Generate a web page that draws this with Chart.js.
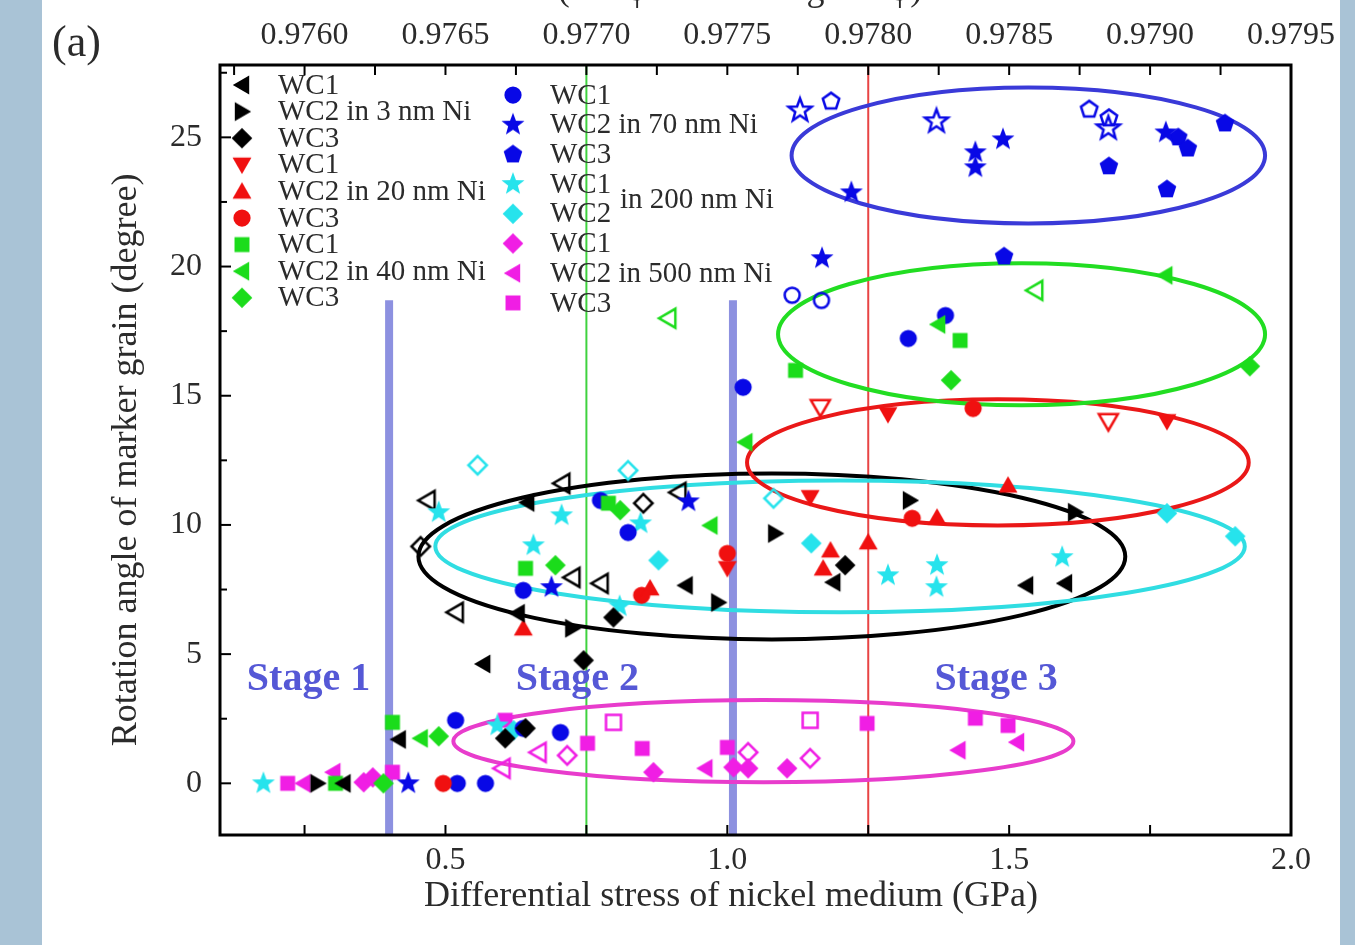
<!DOCTYPE html>
<html>
<head>
<meta charset="utf-8">
<script src="https://cdn.jsdelivr.net/npm/chart.js@4.4.1/dist/chart.umd.min.js"></script>
<style>
  html, body { margin: 0; padding: 0; background: #a9c3d6; }
  #wrap { width: 1355px; height: 945px; }
</style>
</head>
<body>
<div id="wrap"><canvas id="grafico" width="1355" height="945"></canvas></div>
<script>
const FONT = "'Liberation Serif', 'Times New Roman', serif";

// ticks
const xTicks = [0.5, 1.0, 1.5, 2.0];
const xMinorTicks = [0.25, 0.75, 1.25, 1.75];
const topTicks = [0.9760, 0.9765, 0.9770, 0.9775, 0.9780, 0.9785, 0.9790, 0.9795];
const topMinorTicks = [0.97575, 0.97625, 0.97675, 0.97725, 0.97775, 0.97825, 0.97875, 0.97925];
const yTicks = [0, 5, 10, 15, 20, 25];
const yMinorTicks = [2.5, 7.5, 12.5, 17.5, 22.5, 27.5];

// 3 nm Ni (black)
const ni3WC1 = [[0.319,0],[0.417,1.70],[0.567,4.62],[0.645,10.87],[0.628,6.58],[0.926,7.66],[1.188,7.78],[1.530,7.66],[1.599,7.74]];
const ni3WC1Open = [[0.468,10.95],[0.707,11.61],[0.913,11.26],[0.725,7.97],[0.775,7.74],[0.518,6.62]];
const ni3WC2 = [[0.273,0],[0.725,6.00],[1.085,9.67],[0.984,7.00],[1.324,10.95],[1.617,10.49]];
const ni3WC3 = [[0.745,4.76],[0.606,1.74],[0.642,2.13],[0.798,6.42],[1.209,8.44]];
const ni3WC3Open = [[0.456,9.17],[0.851,10.84]];

// 20 nm Ni (red)
const ni20WC1 = [[1.147,11.07],[1.285,14.28],[1.780,14.01],[1.000,8.32]];
const ni20WC1Open = [[1.165,14.55],[1.676,14.01]];
const ni20WC2 = [[0.638,6.00],[0.863,7.55],[1.170,8.32],[1.183,9.02],[1.250,9.33],[1.372,10.29],[1.498,11.53]];
const ni20WC3 = [[0.496,0],[0.848,7.28],[1.000,8.90],[1.328,10.26],[1.436,14.51]];

// 40 nm Ni (green)
const ni40WC1 = [[0.305,0],[0.406,2.36],[0.642,8.32],[0.789,10.84],[1.121,15.98],[1.413,17.14]];
const ni40WC2 = [[0.456,1.74],[0.970,9.98],[1.032,13.20],[1.374,17.76],[1.777,19.66]];
const ni40WC2Open = [[0.895,18.00],[1.546,19.08]];
const ni40WC3 = [[0.390,0],[0.488,1.82],[0.695,8.44],[0.810,10.57],[1.397,15.60],[1.927,16.14]];

// 70 nm Ni (blue)
const ni70WC1 = [[0.521,0],[0.571,0],[0.518,2.44],[0.638,2.13],[0.704,1.97],[0.638,7.47],[0.775,10.95],[0.824,9.71],[1.028,15.33],[1.321,17.22],[1.387,18.11]];
const ni70WC1Open = [[1.115,18.89],[1.167,18.69]];
const ni70WC2 = [[0.434,0],[0.688,7.59],[0.931,10.91],[1.168,20.32],[1.220,22.87],[1.440,24.42],[1.440,23.84],[1.489,24.92],[1.778,25.19]];
const ni70WC2Open = [[1.129,26.04],[1.371,25.62],[1.676,25.35]];
const ni70WC3 = [[1.491,20.39],[1.677,23.88],[1.780,22.99],[1.800,25.00],[1.817,24.57],[1.883,25.54]];
const ni70WC3Open = [[1.184,26.39],[1.642,26.08],[1.677,25.74]];

// 200 nm Ni (cyan)
const ni200WC1 = [[0.177,0],[0.592,2.24],[0.488,10.49],[0.656,9.21],[0.706,10.37],[0.809,6.85],[0.846,10.06],[1.285,8.05],[1.372,8.44],[1.371,7.59],[1.594,8.75]];
const ni200WC2 = [[0.621,2.05],[0.878,8.63],[1.149,9.29],[1.780,10.45],[1.901,9.56]];
const ni200WC2Open = [[0.557,12.31],[0.824,12.11],[1.082,11.03]];

// 500 nm Ni (magenta)
const ni500WC1 = [[0.355,0.04],[0.371,0.23],[0.869,0.43],[1.011,0.62],[1.037,0.58],[1.106,0.58]];
const ni500WC1Open = [[0.716,1.08],[1.037,1.20],[1.147,0.97]];
const ni500WC2 = [[0.248,0],[0.301,0.43],[0.961,0.58],[1.410,1.28],[1.514,1.59]];
const ni500WC2Open = [[0.601,0.58],[0.665,1.20]];
const ni500WC3 = [[0.220,0],[0.406,0.43],[0.606,2.44],[0.752,1.55],[0.849,1.35],[1.000,1.39],[1.248,2.32],[1.440,2.52],[1.498,2.24]];
const ni500WC3Open = [[0.798,2.36],[1.147,2.44]];

// group ellipses: [cx, cy, rx, ry]
const ellBlue = [1.534, 24.30, 0.420, 2.63];
const ellGreen = [1.522, 17.38, 0.432, 2.75];
const ellRed = [1.480, 12.42, 0.445, 2.44];
const ellBlack = [1.079, 8.78, 0.627, 3.21];
const ellCyan = [1.200, 9.17, 0.718, 2.55];
const ellMagenta = [1.064, 1.63, 0.550, 1.59];

// stage boundaries and labels
const stageLineX = [0.40, 1.01];
const stageLineTop = 18.7;
const greenLineX = 0.75;
const redLineX = 1.25;
const stageNames = ['Stage 1', 'Stage 2', 'Stage 3'];
const stageX = [0.257, 0.734, 1.477];
const stageY = 3.6;

const C = {
  black: '#000000', red: '#f01010', green: '#1bdc1b',
  blue: '#0808e6', cyan: '#26e3ec', magenta: '#f01ee4'
};

const MS = 1.15; // marker scale

function poly(g, n, r, startDeg) {
  for (let i = 0; i < n; i++) {
    const a = (startDeg + i * 360 / n) * Math.PI / 180;
    const px = r * Math.cos(a), py = r * Math.sin(a);
    if (i === 0) g.moveTo(px, py); else g.lineTo(px, py);
  }
}

function makeMarker(shape, color, open) {
  const c = document.createElement('canvas');
  c.width = 32; c.height = 32;
  const g = c.getContext('2d');
  g.translate(16, 16);
  g.scale(MS, MS);
  g.beginPath();
  switch (shape) {
    case 'circle': g.arc(0, 0, open ? 6.5 : 7.5, 0, Math.PI * 2); break;
    case 'square': g.rect(-6.5, -6.5, 13, 13); break;
    case 'diamond': poly(g, 4, open ? 8 : 9, -90); break;
    case 'triUp': g.translate(0, 1.5); poly(g, 3, 9.5, -90); break;
    case 'triDown': g.translate(0, -1.5); poly(g, 3, 9.5, 90); break;
    case 'triLeft': g.translate(1.5, 0); poly(g, 3, 9.5, 180); break;
    case 'triRight': g.translate(-1.5, 0); poly(g, 3, 9.5, 0); break;
    case 'pentagon': poly(g, 5, open ? 7.5 : 8.5, -90); break;
    case 'star':
      for (let i = 0; i < 10; i++) {
        const r = i % 2 ? 4.4 : 10.5;
        const a = (-90 + i * 36) * Math.PI / 180;
        if (i === 0) g.moveTo(r * Math.cos(a), r * Math.sin(a));
        else g.lineTo(r * Math.cos(a), r * Math.sin(a));
      }
      break;
  }
  g.closePath();
  if (open) { g.lineWidth = 2.2; g.strokeStyle = color; g.stroke(); }
  else { g.fillStyle = color; g.fill(); }
  return c;
}

const series = [
  { pts: ni3WC1, color: C.black, shape: 'triLeft', col: 0, text: 'WC1' },
  { pts: ni3WC2, color: C.black, shape: 'triRight', col: 0, text: 'WC2 in 3 nm Ni' },
  { pts: ni3WC3, color: C.black, shape: 'diamond', col: 0, text: 'WC3' },
  { pts: ni20WC1, color: C.red, shape: 'triDown', col: 0, text: 'WC1' },
  { pts: ni20WC2, color: C.red, shape: 'triUp', col: 0, text: 'WC2 in 20 nm Ni' },
  { pts: ni20WC3, color: C.red, shape: 'circle', col: 0, text: 'WC3' },
  { pts: ni40WC1, color: C.green, shape: 'square', col: 0, text: 'WC1' },
  { pts: ni40WC2, color: C.green, shape: 'triLeft', col: 0, text: 'WC2 in 40 nm Ni' },
  { pts: ni40WC3, color: C.green, shape: 'diamond', col: 0, text: 'WC3' },
  { pts: ni70WC1, color: C.blue, shape: 'circle', col: 1, text: 'WC1' },
  { pts: ni70WC2, color: C.blue, shape: 'star', col: 1, text: 'WC2 in 70 nm Ni' },
  { pts: ni70WC3, color: C.blue, shape: 'pentagon', col: 1, text: 'WC3' },
  { pts: ni200WC1, color: C.cyan, shape: 'star', col: 1, text: 'WC1' },
  { pts: ni200WC2, color: C.cyan, shape: 'diamond', col: 1, text: 'WC2' },
  { pts: ni500WC1, color: C.magenta, shape: 'diamond', col: 1, text: 'WC1' },
  { pts: ni500WC2, color: C.magenta, shape: 'triLeft', col: 1, text: 'WC2 in 500 nm Ni' },
  { pts: ni500WC3, color: C.magenta, shape: 'square', col: 1, text: 'WC3' },
  // open symbols, no legend entry
  { pts: ni3WC1Open, color: C.black, shape: 'triLeft', open: true },
  { pts: ni3WC3Open, color: C.black, shape: 'diamond', open: true },
  { pts: ni20WC1Open, color: C.red, shape: 'triDown', open: true },
  { pts: ni40WC2Open, color: C.green, shape: 'triLeft', open: true },
  { pts: ni70WC1Open, color: C.blue, shape: 'circle', open: true },
  { pts: ni70WC2Open, color: C.blue, shape: 'star', open: true },
  { pts: ni70WC3Open, color: C.blue, shape: 'pentagon', open: true },
  { pts: ni200WC2Open, color: C.cyan, shape: 'diamond', open: true },
  { pts: ni500WC1Open, color: C.magenta, shape: 'diamond', open: true },
  { pts: ni500WC2Open, color: C.magenta, shape: 'triLeft', open: true },
  { pts: ni500WC3Open, color: C.magenta, shape: 'square', open: true }
];

series.forEach(s => { s.marker = makeMarker(s.shape, s.color, s.open); });

const datasets = series.map(s => ({
  label: s.text || '',
  data: s.pts.map(p => ({ x: p[0], y: p[1] })),
  pointStyle: s.marker,
  pointRadius: 9,
  borderColor: s.color,
  backgroundColor: s.color,
  showLine: false
}));

function drawEllipse(ctx, x, y, e, color) {
  const cx = x.getPixelForValue(e[0]);
  const cy = y.getPixelForValue(e[1]);
  const rx = Math.abs(x.getPixelForValue(e[0] + e[2]) - cx);
  const ry = Math.abs(y.getPixelForValue(e[1] + e[3]) - cy);
  ctx.beginPath();
  ctx.ellipse(cx, cy, rx, ry, 0, 0, Math.PI * 2);
  ctx.strokeStyle = color;
  ctx.lineWidth = 4;
  ctx.stroke();
}

function vline(ctx, px, y0, y1) {
  ctx.beginPath(); ctx.moveTo(px, y0); ctx.lineTo(px, y1); ctx.stroke();
}

const decor = {
  id: 'decor',
  beforeDraw(chart) {
    const { ctx, width, height } = chart;
    ctx.save();
    ctx.fillStyle = '#a9c3d6';
    ctx.fillRect(0, 0, width, height);
    ctx.fillStyle = '#ffffff';
    ctx.fillRect(42, 0, 1298, height);
    ctx.restore();
  },
  beforeDatasetsDraw(chart) {
    const { ctx, chartArea: a, scales: { x, y } } = chart;
    ctx.save();
    ctx.beginPath();
    ctx.rect(a.left, a.top, a.right - a.left, a.bottom - a.top);
    ctx.clip();
    ctx.strokeStyle = '#8d91e0';
    ctx.lineWidth = 8;
    stageLineX.forEach(v => vline(ctx, x.getPixelForValue(v), a.bottom, y.getPixelForValue(stageLineTop)));
    ctx.lineWidth = 2;
    ctx.strokeStyle = '#3fd23f';
    vline(ctx, x.getPixelForValue(greenLineX), a.top, a.bottom);
    ctx.strokeStyle = '#e84444';
    vline(ctx, x.getPixelForValue(redLineX), a.top, a.bottom);

    drawEllipse(ctx, x, y, ellBlack, '#000000');
    drawEllipse(ctx, x, y, ellCyan, '#30dde2');
    drawEllipse(ctx, x, y, ellRed, '#ea1818');
    drawEllipse(ctx, x, y, ellGreen, '#22dd22');
    drawEllipse(ctx, x, y, ellBlue, '#3a3ad8');
    drawEllipse(ctx, x, y, ellMagenta, '#e83ccc');
    ctx.restore();
  },
  afterDatasetsDraw(chart) {
    const { ctx, chartArea: a, scales: { x, x2, y } } = chart;
    ctx.save();
    // frame
    ctx.strokeStyle = '#000';
    ctx.lineWidth = 3;
    ctx.strokeRect(a.left, a.top, a.right - a.left, a.bottom - a.top);
    // inward ticks
    ctx.lineWidth = 2;
    const tick = (x0, y0, x1, y1) => { ctx.beginPath(); ctx.moveTo(x0, y0); ctx.lineTo(x1, y1); ctx.stroke(); };
    xTicks.concat(xMinorTicks).forEach(v => { const p = x.getPixelForValue(v); tick(p, a.bottom, p, a.bottom - 10); });
    topTicks.concat(topMinorTicks).forEach(v => { const p = x2.getPixelForValue(v); tick(p, a.top, p, a.top + 10); });
    yTicks.forEach(v => { const p = y.getPixelForValue(v); tick(a.left, p, a.left + 11, p); });
    yMinorTicks.forEach(v => { const p = y.getPixelForValue(v); tick(a.left, p, a.left + 7, p); });

    // stage labels
    ctx.fillStyle = '#5558d6';
    ctx.font = 'bold 40px ' + FONT;
    ctx.textAlign = 'center';
    ctx.textBaseline = 'alphabetic';
    stageNames.forEach((t, i) => ctx.fillText(t, x.getPixelForValue(stageX[i]), y.getPixelForValue(stageY)));

    // legend
    ctx.fillStyle = '#2b2b2b';
    ctx.font = '29px ' + FONT;
    ctx.textAlign = 'left';
    ctx.textBaseline = 'middle';
    const rows = [0, 0];
    series.filter(s => s.text).forEach(s => {
      const r = rows[s.col]++;
      const mx = s.col ? 513 : 242;
      const tx = s.col ? 550 : 278;
      const my = s.col ? 95 + r * 29.7 : 85 + r * 26.6;
      ctx.drawImage(s.marker, mx - 16, my - 16);
      ctx.fillText(s.text, tx, my + 1);
    });
    ctx.fillText('in 200 nm Ni', 620, 200);

    // axis titles
    ctx.fillStyle = '#2b2b2b';
    ctx.font = '36px ' + FONT;
    ctx.textAlign = 'center';
    ctx.textBaseline = 'alphabetic';
    ctx.fillText('Differential stress of nickel medium (GPa)', 731, 906);
    ctx.fillText('(cos \u03c6 of marker grain \u03c6)', 740, 0);
    ctx.save();
    ctx.translate(136, 460);
    ctx.rotate(-Math.PI / 2);
    ctx.fillText('Rotation angle of marker grain (degree)', 0, 0);
    ctx.restore();
    ctx.font = '44px ' + FONT;
    ctx.textAlign = 'left';
    ctx.fillText('(a)', 52, 56);
    ctx.restore();
  }
};

const tickFont = { family: FONT, size: 32 };

new Chart(document.getElementById('grafico').getContext('2d'), {
  type: 'scatter',
  data: { datasets },
  options: {
    responsive: false,
    animation: false,
    layout: { padding: { left: 0, right: 64, top: 0, bottom: 0 } },
    plugins: { legend: { display: false }, tooltip: { enabled: false } },
    scales: {
      x: {
        type: 'linear', position: 'bottom', min: 0.1, max: 2.0,
        grid: { display: false, drawTicks: false }, border: { display: false },
        ticks: { font: tickFont, color: '#2b2b2b', padding: 6, maxRotation: 0, callback: v => v.toFixed(1) },
        afterBuildTicks: s => { s.ticks = xTicks.map(v => ({ value: v })); },
        afterFit: s => { s.height = 110; }
      },
      x2: {
        type: 'linear', position: 'top', min: 0.9757, max: 0.9795,
        grid: { display: false, drawTicks: false }, border: { display: false },
        ticks: { font: tickFont, color: '#2b2b2b', padding: 10, maxRotation: 0, callback: v => v.toFixed(4) },
        afterBuildTicks: s => { s.ticks = topTicks.map(v => ({ value: v })); },
        afterFit: s => { s.height = 65; }
      },
      y: {
        type: 'linear', position: 'left', min: -2, max: 27.8,
        grid: { display: false, drawTicks: false }, border: { display: false },
        ticks: { font: tickFont, color: '#2b2b2b', padding: 18, callback: v => String(v) },
        afterBuildTicks: s => { s.ticks = yTicks.map(v => ({ value: v })); },
        afterFit: s => { s.width = 220; }
      }
    }
  },
  plugins: [decor]
});
</script>
</body>
</html>
